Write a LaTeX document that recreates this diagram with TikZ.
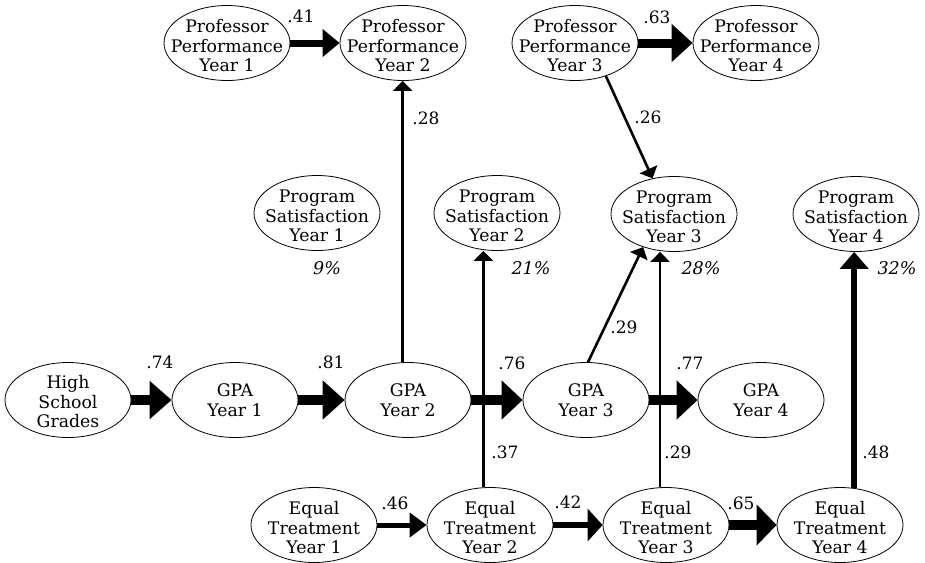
\documentclass[tikz,border=0pt]{standalone}
\usepackage{fontspec}
\setmainfont{DejaVu Serif}
\usetikzlibrary{arrows.meta,shapes.geometric}
\begin{document}
\begin{tikzpicture}[x=1pt,y=-1pt,
  every node/.style={font=\fontsize{17}{19.5}\selectfont, inner sep=0pt},
  ell/.style={draw, ellipse, line width=0.8pt, minimum width=126pt, minimum height=75pt, inner sep=0pt},
  inner/.style={align=center, font=\fontsize{17.3}{19.5}\selectfont},
  innerthree/.style={inner, yshift=-3pt},
  coef/.style={font=\fontsize{17}{19.5}\selectfont},
  pct/.style={font=\fontsize{17.5}{19.5}\selectfont\itshape},
  thinarr/.style={line width=2.6pt, -{Triangle[length=10pt,width=19pt]}},
  midarr/.style={line width=5.5pt, -{Triangle[length=17pt,width=28pt]}},
]
\useasboundingbox (0,0) rectangle (925,562);

% Professor Performance row
\node[ell, label={[innerthree]center:Professor\\Performance\\Year 1}] (pp1) at (227,43) {};
\node[ell, label={[innerthree]center:Professor\\Performance\\Year 2}] (pp2) at (403,43) {};
\node[ell, label={[innerthree]center:Professor\\Performance\\Year 3}] (pp3) at (575,43) {};
\node[ell, label={[innerthree]center:Professor\\Performance\\Year 4}] (pp4) at (756,43) {};

% Program Satisfaction row
\node[ell, label={[innerthree]center:Program\\Satisfaction\\Year 1}] (ps1) at (317,213) {};
\node[ell, label={[innerthree]center:Program\\Satisfaction\\Year 2}] (ps2) at (497,213) {};
\node[ell, label={[innerthree]center:Program\\Satisfaction\\Year 3}] (ps3) at (674,214) {};
\node[ell, label={[innerthree]center:Program\\Satisfaction\\Year 4}] (ps4) at (856,214) {};

% GPA row
\node[ell, label={[inner,yshift=-2pt]center:High\\School\\Grades}] (hsg) at (68,400) {};
\node[ell, label={[inner]center:GPA\\Year 1}] (gpa1) at (235,400) {};
\node[ell, label={[inner]center:GPA\\Year 2}] (gpa2) at (408,400) {};
\node[ell, label={[inner]center:GPA\\Year 3}] (gpa3) at (586,400) {};
\node[ell, label={[inner]center:GPA\\Year 4}] (gpa4) at (761,400) {};

% Equal Treatment row
\node[ell, label={[innerthree]center:Equal\\Treatment\\Year 1}] (et1) at (314,525) {};
\node[ell, label={[innerthree]center:Equal\\Treatment\\Year 2}] (et2) at (490,525) {};
\node[ell, label={[innerthree]center:Equal\\Treatment\\Year 3}] (et3) at (666,525) {};
\node[ell, label={[innerthree]center:Equal\\Treatment\\Year 4}] (et4) at (840,525) {};

% percentages
\node[pct] (r1) at (327,268) {9\%};
\node[pct] (r2) at (531,268) {21\%};
\node[pct] (r3) at (701,268) {28\%};
\node[pct] (r4) at (897,268) {32\%};

% horizontal arrows
\draw[line width=7pt, -{Triangle[length=17pt,width=27pt]}] (pp1.east) -- (pp2.west);
\draw[line width=9pt, -{Triangle[length=21pt,width=37pt]}] (pp3.east) -- (pp4.west);
\draw[line width=10pt, -{Triangle[length=22pt,width=37pt]}] (hsg.east) -- (gpa1.west);
\draw[line width=10pt, -{Triangle[length=22pt,width=38pt]}] (gpa1.east) -- (gpa2.west);
\draw[line width=10pt, -{Triangle[length=21pt,width=38pt]}] (gpa2.east) -- (gpa3.west);
\draw[line width=10pt, -{Triangle[length=21pt,width=38pt]}] (gpa3.east) -- (gpa4.west);
\draw[line width=5pt, -{Triangle[length=17pt,width=24pt]}] (et1.east) -- (et2.west);
\draw[line width=6pt, -{Triangle[length=15pt,width=32pt]}] (et2.east) -- (et3.west);
\draw[line width=10pt, -{Triangle[length=20pt,width=40pt]}] (et3.east) -- (et4.west);

% vertical and diagonal arrows
\draw[thinarr] (gpa2.98) -- (gpa2.98 |- pp2.south);
\draw[thinarr] (et2.100) -- (et2.100 |- ps2.south);
\draw[thinarr] (et3.99) -- (et3.99 |- ps3.south);
\draw[midarr] (et4.69) -- (et4.69 |- ps4.south);
\draw[thinarr] (pp3.-47) -- (ps3.121);
\draw[thinarr] (gpa3.87) -- (ps3.227);

% coefficients
\node[coef] (c41) at (301,16) {.41};
\node[coef] (c63) at (657,17) {.63};
\node[coef] (c28) at (426,118) {.28};
\node[coef] (c26) at (648,117) {.26};
\node[coef] (c29a) at (624,327) {.29};
\node[coef] (c74) at (160,362) {.74};
\node[coef] (c81) at (331,362) {.81};
\node[coef] (c76) at (512,363) {.76};
\node[coef] (c77) at (690,363) {.77};
\node[coef] (c37) at (505,452) {.37};
\node[coef] (c29b) at (678,452) {.29};
\node[coef] (c48) at (876,452) {.48};
\node[coef] (c46) at (395,503) {.46};
\node[coef] (c42) at (568,502) {.42};
\node[coef] (c65) at (741,503) {.65};
\end{tikzpicture}
\end{document}
